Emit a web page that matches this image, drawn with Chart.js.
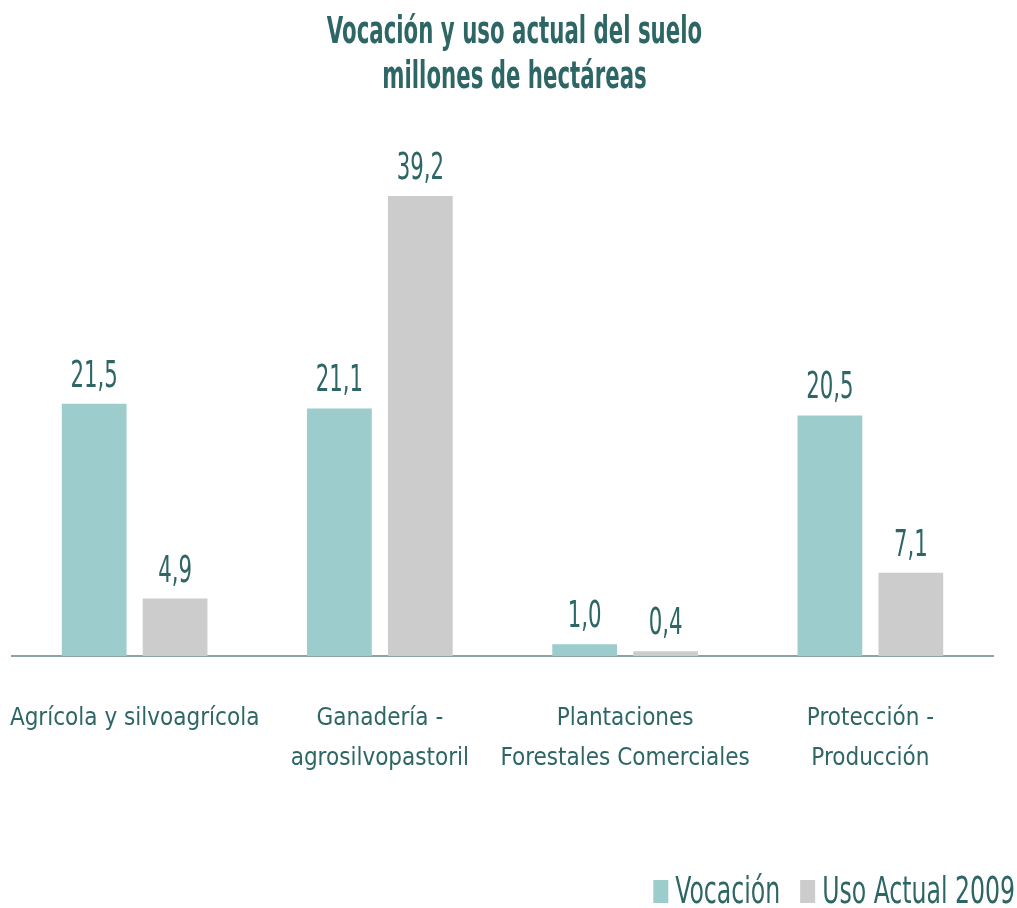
<!DOCTYPE html>
<html>
<head>
<meta charset="utf-8">
<script src="https://cdn.jsdelivr.net/npm/chart.js@4"></script>
<style>
  html, body { margin: 0; padding: 0; background: #fff; }
  #wrap { width: 1017px; height: 908px; }
</style>
</head>
<body>
<div id="wrap"><canvas id="chart"></canvas></div>
<script>
const categories = [
  ["Agrícola y silvoagrícola"],
  ["Ganadería -", "agrosilvopastoril"],
  ["Plantaciones", "Forestales Comerciales"],
  ["Protección -", "Producción"]
];
const vocacion = [21.5, 21.1, 1.0, 20.5];
const usoActual = [4.9, 39.2, 0.4, 7.1];
const titleLines = ["Vocación y uso actual del suelo", "millones de hectáreas"];

const textColor = "#2e6666";
const condensed = "'DejaVu Sans Condensed', 'DejaVu Sans', sans-serif";

// the original uses a very condensed face, so squeeze text horizontally
function narrowText(ctx, txt, x, y, squeeze) {
  ctx.save();
  ctx.translate(x, y);
  ctx.scale(squeeze, 1);
  ctx.fillText(txt, 0, 0);
  ctx.restore();
}

const titlePlugin = {
  id: "narrowTitle",
  afterDraw(chart) {
    const ctx = chart.ctx;
    ctx.save();
    ctx.fillStyle = textColor;
    ctx.font = "bold 37px " + condensed;
    ctx.textAlign = "center";
    ctx.textBaseline = "alphabetic";
    const cx = chart.width / 2 + 6;
    titleLines.forEach((line, i) => narrowText(ctx, line, cx, 43 + i * 45, 0.64));
    ctx.restore();
  }
};

const valueLabels = {
  id: "valueLabels",
  afterDatasetsDraw(chart) {
    const ctx = chart.ctx;
    ctx.save();
    ctx.fillStyle = textColor;
    ctx.font = "37px " + condensed;
    ctx.textAlign = "center";
    ctx.textBaseline = "alphabetic";
    chart.data.datasets.forEach((ds, i) => {
      chart.getDatasetMeta(i).data.forEach((bar, j) => {
        const txt = ds.data[j].toFixed(1).replace(".", ",");
        narrowText(ctx, txt, bar.x, bar.y - 17, 0.64);
      });
    });
    ctx.restore();
  }
};

// legend in the bottom right corner, same narrow face
const narrowLegend = {
  id: "narrowLegend",
  afterDraw(chart) {
    const ctx = chart.ctx;
    const squeeze = 0.69;
    ctx.save();
    ctx.font = "38px " + condensed;
    ctx.textAlign = "left";
    ctx.textBaseline = "alphabetic";
    const base = chart.height - 5;
    let x = chart.width - 2;
    const items = chart.data.datasets.slice().reverse();
    items.forEach(ds => {
      const w = ctx.measureText(ds.label).width * squeeze;
      x -= w;
      ctx.fillStyle = textColor;
      narrowText(ctx, ds.label, x, base, squeeze);
      x -= 7 + 15;
      ctx.fillStyle = ds.backgroundColor;
      ctx.fillRect(x, base - 23, 15, 23);
      x -= 20;
    });
    ctx.restore();
  }
};

new Chart(document.getElementById("chart"), {
  type: "bar",
  data: {
    labels: categories,
    datasets: [
      { label: "Vocación", data: vocacion, backgroundColor: "#9ccccc" },
      { label: "Uso Actual 2009", data: usoActual, backgroundColor: "#cccccc" }
    ]
  },
  options: {
    responsive: true,
    maintainAspectRatio: false,
    animation: false,
    categoryPercentage: 0.66,
    barPercentage: 0.8,
    layout: { padding: { left: 12, right: 2, top: 128, bottom: 100 } },
    plugins: {
      title: { display: false },
      legend: { display: false },
      tooltip: { enabled: false }
    },
    scales: {
      x: {
        grid: { display: false },
        border: { color: "#8da3a3", width: 2 },
        ticks: {
          color: textColor,
          font: { family: condensed, size: 24, lineHeight: 1.67 },
          padding: 35,
          maxRotation: 0,
          autoSkip: false
        },
        afterFit(s) {
          s.height = 152;
          s.paddingLeft = 0;
          s.paddingRight = 0;
        }
      },
      y: {
        display: false,
        min: 0,
        max: 45
      },
      yRight: {
        position: "right",
        display: true,
        grid: { display: false },
        border: { display: false },
        ticks: { display: false },
        afterFit(s) { s.width = 22; }
      }
    }
  },
  plugins: [valueLabels, titlePlugin, narrowLegend]
});
</script>
</body>
</html>
